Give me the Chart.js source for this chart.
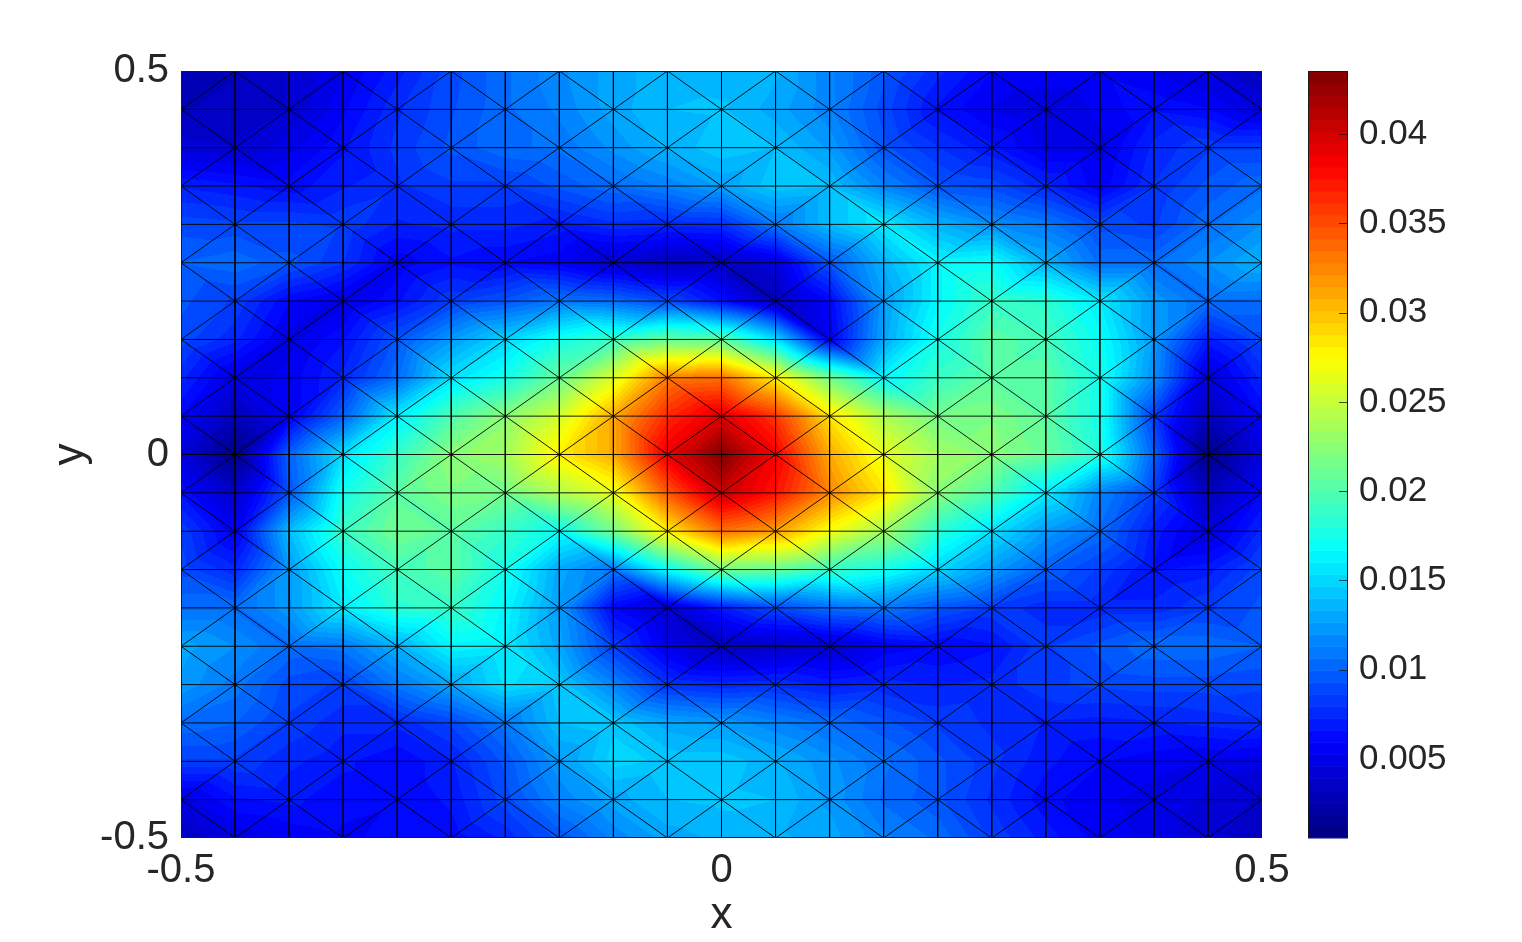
<!DOCTYPE html>
<html>
<head>
<meta charset="utf-8">
<title>Mesh field</title>
<script src="https://cdn.jsdelivr.net/npm/chart.js@4/dist/chart.umd.min.js"></script>
<style>
    html, body { margin: 0; padding: 0; background: #fff; }
    canvas { display: block; }
</style>
</head>
<body>
<canvas id="meshChart" width="1522" height="942"></canvas>
<script>
const xNodes = [-0.5, -0.45, -0.4, -0.35, -0.3, -0.25, -0.2, -0.15, -0.1, -0.05, 0, 0.05, 0.1, 0.15, 0.2, 0.25, 0.3, 0.35, 0.4, 0.45, 0.5];
const yNodes = [0.5, 0.45, 0.4, 0.35, 0.3, 0.25, 0.2, 0.15, 0.1, 0.05, 0, -0.05, -0.1, -0.15, -0.2, -0.25, -0.3, -0.35, -0.4, -0.45, -0.5];

// node values, one list per y level, left to right
const rowP50 = [.0028, .0032, .0040, .0052, .0070, .0090, .0105, .0118, .0130, .0138, .0137, .0135, .0115, .0095, .0075, .0060, .0060, .0058, .0052, .0045, .0030];
const rowP45 = [.0032, .0035, .0040, .0058, .0078, .0092, .0105, .0115, .0130, .0140, .0141, .0130, .0115, .0090, .0065, .0052, .0045, .0055, .0065, .0060, .0045];
const rowP40 = [.0042, .0040, .0050, .0065, .0082, .0095, .0105, .0108, .0122, .0135, .0145, .0140, .0125, .0095, .0080, .0068, .0050, .0050, .0075, .0085, .0085];
const rowP35 = [.0072, .0068, .0062, .0072, .0078, .0085, .0085, .0095, .0105, .0115, .0128, .0145, .0140, .0115, .0095, .0090, .0075, .0055, .0080, .0095, .0105];
const rowP30 = [.0090, .0088, .0088, .0085, .0072, .0075, .0075, .0070, .0078, .0075, .0078, .0110, .0140, .0160, .0135, .0120, .0110, .0090, .0085, .0105, .0120];
const rowP25 = [.0100, .0105, .0095, .0080, .0055, .0065, .0060, .0055, .0040, .0030, .0032, .0045, .0095, .0135, .0165, .0170, .0135, .0105, .0105, .0120, .0135];
const rowP20 = [.0095, .0085, .0060, .0050, .0065, .0085, .0095, .0110, .0105, .0090, .0065, .0030, .0060, .0125, .0165, .0190, .0185, .0160, .0125, .0105, .0105];
const rowP15 = [.0090, .0075, .0050, .0065, .0095, .0125, .0150, .0175, .0190, .0210, .0205, .0155, .0055, .0130, .0175, .0205, .0195, .0170, .0125, .0070, .0090];
const rowP10 = [.0075, .0048, .0055, .0075, .0105, .0155, .0175, .0210, .0260, .0330, .0335, .0280, .0215, .0165, .0190, .0205, .0205, .0175, .0120, .0045, .0075];
const rowP05 = [.0060, .0030, .0055, .0100, .0160, .0200, .0225, .0255, .0310, .0365, .0395, .0360, .0285, .0240, .0215, .0220, .0205, .0175, .0085, .0030, .0060];
const rowZ00 = [.0045, .0010, .0100, .0155, .0190, .0225, .0235, .0280, .0310, .0390, .0435, .0385, .0310, .0265, .0235, .0225, .0210, .0180, .0100, .0010, .0045];
const rowM05 = [.0065, .0035, .0095, .0175, .0205, .0220, .0215, .0240, .0265, .0345, .0405, .0375, .0325, .0285, .0225, .0200, .0160, .0115, .0085, .0030, .0060];
const rowM10 = [.0085, .0055, .0140, .0190, .0215, .0205, .0190, .0170, .0215, .0280, .0335, .0315, .0270, .0235, .0185, .0155, .0125, .0105, .0070, .0045, .0075];
const rowM15 = [.0090, .0075, .0125, .0170, .0195, .0205, .0175, .0130, .0110, .0170, .0215, .0210, .0190, .0175, .0150, .0125, .0100, .0085, .0065, .0070, .0090];
const rowM20 = [.0105, .0105, .0125, .0160, .0185, .0190, .0165, .0125, .0060, .0040, .0070, .0090, .0105, .0110, .0095, .0085, .0075, .0075, .0075, .0085, .0095];
const rowM25 = [.0130, .0120, .0105, .0110, .0135, .0165, .0160, .0130, .0085, .0050, .0030, .0035, .0040, .0055, .0060, .0065, .0085, .0095, .0105, .0105, .0100];
const rowM30 = [.0125, .0110, .0090, .0085, .0110, .0130, .0155, .0145, .0115, .0080, .0075, .0078, .0070, .0075, .0072, .0075, .0085, .0088, .0090, .0090, .0088];
const rowM35 = [.0105, .0100, .0085, .0075, .0075, .0088, .0110, .0140, .0145, .0130, .0125, .0115, .0105, .0095, .0085, .0078, .0072, .0070, .0072, .0075, .0078];
const rowM40 = [.0085, .0085, .0075, .0068, .0060, .0072, .0095, .0125, .0150, .0145, .0145, .0135, .0122, .0108, .0095, .0082, .0068, .0060, .0055, .0052, .0048];
const rowM45 = [.0048, .0065, .0068, .0062, .0060, .0068, .0090, .0115, .0130, .0140, .0142, .0140, .0125, .0105, .0095, .0078, .0062, .0054, .0050, .0045, .0038];
const rowM50 = [.0032, .0048, .0054, .0058, .0062, .0062, .0075, .0095, .0115, .0130, .0135, .0135, .0130, .0115, .0105, .0085, .0070, .0056, .0050, .0042, .0030];

const zRows = [rowP50, rowP45, rowP40, rowP35, rowP30, rowP25, rowP20, rowP15, rowP10, rowP05, rowZ00, rowM05, rowM10, rowM15, rowM20, rowM25, rowM30, rowM35, rowM40, rowM45, rowM50];

const xTicks = [-0.5, 0, 0.5];
const yTicks = [-0.5, 0, 0.5];
const colorTicks = [0.005, 0.01, 0.015, 0.02, 0.025, 0.03, 0.035, 0.04];
const colorMin = 0.00058;
const colorMax = 0.04353;

const TEXT_COLOR = "#262626";
const FONT = "'Liberation Sans', Arial, sans-serif";
const BANDS = 64;

function clamp01(v) {
    return Math.max(0, Math.min(1, v));
}

// jet colormap, quantised to 64 bands like the original
function jet(i) {
    const t = (i + 0.5) / BANDS;
    return [
        Math.round(255 * clamp01(Math.min(4 * t - 1.5, -4 * t + 4.5))),
        Math.round(255 * clamp01(Math.min(4 * t - 0.5, -4 * t + 3.5))),
        Math.round(255 * clamp01(Math.min(4 * t + 0.5, -4 * t + 2.5)))
    ];
}

const palette = [];
for (let i = 0; i < BANDS; i++) {
    palette.push(jet(i));
}

function bandOf(v) {
    const t = (v - colorMin) / (colorMax - colorMin);
    return Math.max(0, Math.min(BANDS - 1, Math.floor(t * BANDS)));
}

// each cell is split along the diagonal that joins its two "odd" corners
function cellTriangles(i, j) {
    const a = [i, j], b = [i + 1, j], c = [i, j + 1], d = [i + 1, j + 1];
    if ((i + j) % 2 === 1) {
        return [[a, b, d], [a, d, c]];
    }
    return [[a, b, c], [b, d, c]];
}

function meshLines() {
    const pts = [];
    const gap = { x: NaN, y: NaN };
    const n = xNodes.length - 1;
    const m = yNodes.length - 1;

    xNodes.forEach(x => {
        pts.push({ x: x, y: yNodes[0] }, { x: x, y: yNodes[m] }, gap);
    });
    yNodes.forEach(y => {
        pts.push({ x: xNodes[0], y: y }, { x: xNodes[n], y: y }, gap);
    });
    for (let j = 0; j < m; j++) {
        for (let i = 0; i < n; i++) {
            if ((i + j) % 2 === 1) {
                pts.push({ x: xNodes[i], y: yNodes[j] }, { x: xNodes[i + 1], y: yNodes[j + 1] }, gap);
            } else {
                pts.push({ x: xNodes[i + 1], y: yNodes[j] }, { x: xNodes[i], y: yNodes[j + 1] }, gap);
            }
        }
    }
    return pts;
}

const fieldPlugin = {
    id: "field",
    beforeDatasetsDraw(chart) {
        const area = chart.chartArea;
        const sx = chart.scales.x;
        const sy = chart.scales.y;
        const left = Math.round(area.left);
        const top = Math.round(area.top);
        const w = Math.round(area.right) - left;
        const h = Math.round(area.bottom) - top;
        const img = chart.ctx.createImageData(w, h);

        for (let j = 0; j < yNodes.length - 1; j++) {
            for (let i = 0; i < xNodes.length - 1; i++) {
                cellTriangles(i, j).forEach(tri => {
                    const p = tri.map(n => ({
                        x: sx.getPixelForValue(xNodes[n[0]]),
                        y: sy.getPixelForValue(yNodes[n[1]]),
                        z: zRows[n[1]][n[0]]
                    }));
                    const den = (p[1].y - p[2].y) * (p[0].x - p[2].x) + (p[2].x - p[1].x) * (p[0].y - p[2].y);
                    const x0 = Math.max(left, Math.floor(Math.min(p[0].x, p[1].x, p[2].x)));
                    const x1 = Math.min(left + w - 1, Math.ceil(Math.max(p[0].x, p[1].x, p[2].x)));
                    const y0 = Math.max(top, Math.floor(Math.min(p[0].y, p[1].y, p[2].y)));
                    const y1 = Math.min(top + h - 1, Math.ceil(Math.max(p[0].y, p[1].y, p[2].y)));

                    for (let py = y0; py <= y1; py++) {
                        for (let px = x0; px <= x1; px++) {
                            const cx = px + 0.5, cy = py + 0.5;
                            const l0 = ((p[1].y - p[2].y) * (cx - p[2].x) + (p[2].x - p[1].x) * (cy - p[2].y)) / den;
                            const l1 = ((p[2].y - p[0].y) * (cx - p[2].x) + (p[0].x - p[2].x) * (cy - p[2].y)) / den;
                            const l2 = 1 - l0 - l1;
                            if (l0 < -0.02 || l1 < -0.02 || l2 < -0.02) continue;
                            const c = palette[bandOf(l0 * p[0].z + l1 * p[1].z + l2 * p[2].z)];
                            const o = ((py - top) * w + (px - left)) * 4;
                            img.data[o] = c[0];
                            img.data[o + 1] = c[1];
                            img.data[o + 2] = c[2];
                            img.data[o + 3] = 255;
                        }
                    }
                });
            }
        }
        chart.ctx.putImageData(img, left, top);
    },
    afterDatasetsDraw(chart) {
        const ctx = chart.ctx;
        const area = chart.chartArea;
        const cb = chart.scales.cb;
        const barLeft = 1308;
        const barRight = 1348;

        ctx.save();
        ctx.strokeStyle = "#1a1a1a";
        ctx.lineWidth = 1;
        ctx.strokeRect(area.left + 0.5, area.top + 0.5, area.right - area.left - 1, area.bottom - area.top - 1);

        // colour bar, same scale as the tick labels beside it
        for (let i = 0; i < BANDS; i++) {
            const lo = colorMin + (colorMax - colorMin) * i / BANDS;
            const hi = colorMin + (colorMax - colorMin) * (i + 1) / BANDS;
            const yLo = cb.getPixelForValue(lo);
            const yHi = cb.getPixelForValue(hi);
            const c = palette[i];
            ctx.fillStyle = `rgb(${c[0]},${c[1]},${c[2]})`;
            ctx.fillRect(barLeft, yHi, barRight - barLeft, yLo - yHi + 0.5);
        }
        ctx.strokeRect(barLeft + 0.5, area.top + 0.5, barRight - barLeft - 1, area.bottom - area.top - 1);

        ctx.strokeStyle = "rgba(20,20,20,0.75)";
        colorTicks.forEach(v => {
            const y = Math.round(cb.getPixelForValue(v)) + 0.5;
            ctx.beginPath();
            ctx.moveTo(barRight - 9, y);
            ctx.lineTo(barRight, y);
            ctx.stroke();
        });
        ctx.restore();
    }
};

function fixedTicks(values) {
    return scale => {
        scale.ticks = values.map(v => ({ value: v }));
    };
}

// box sizes are fixed so the plot lands where the reference has it
function fixedBox(prop, size) {
    return scale => {
        scale[prop] = size;
        scale.paddingTop = 0;
        scale.paddingBottom = 0;
        scale.paddingLeft = 0;
        scale.paddingRight = 0;
    };
}

const ctx = document.getElementById("meshChart").getContext("2d");

new Chart(ctx, {
    type: "scatter",
    data: {
        datasets: [{
            data: meshLines(),
            showLine: true,
            spanGaps: false,
            borderColor: "rgba(0,0,0,0.9)",
            borderWidth: 1,
            pointRadius: 0,
            pointHoverRadius: 0
        }]
    },
    plugins: [fieldPlugin],
    options: {
        responsive: false,
        animation: false,
        events: [],
        layout: { padding: { top: 71, left: 0, right: 0, bottom: 0 } },
        plugins: {
            legend: { display: false },
            tooltip: { enabled: false }
        },
        scales: {
            x: {
                type: "linear",
                min: -0.5,
                max: 0.5,
                afterBuildTicks: fixedTicks(xTicks),
                afterFit: fixedBox("height", 104),
                grid: { display: false },
                border: { display: false },
                ticks: {
                    color: TEXT_COLOR,
                    font: { family: FONT, size: 40 },
                    padding: 1,
                    maxRotation: 0,
                    autoSkip: false,
                    callback: v => String(v)
                },
                title: {
                    display: true,
                    text: "x",
                    color: TEXT_COLOR,
                    font: { family: FONT, size: 44 },
                    padding: { top: 0, bottom: 0 }
                }
            },
            y: {
                type: "linear",
                min: -0.5,
                max: 0.5,
                afterBuildTicks: fixedTicks(yTicks),
                afterFit: fixedBox("width", 181),
                grid: { display: false },
                border: { display: false },
                ticks: {
                    color: TEXT_COLOR,
                    font: { family: FONT, size: 40 },
                    padding: 4,
                    autoSkip: false,
                    callback: v => String(v)
                },
                title: {
                    display: true,
                    text: "y",
                    color: TEXT_COLOR,
                    font: { family: FONT, size: 44 },
                    padding: { top: 44, bottom: 0 }
                }
            },
            cb: {
                type: "linear",
                axis: "y",
                position: "right",
                min: colorMin,
                max: colorMax,
                afterBuildTicks: fixedTicks(colorTicks),
                afterFit: fixedBox("width", 260),
                grid: { display: false, drawTicks: false },
                border: { display: false },
                ticks: {
                    color: TEXT_COLOR,
                    font: { family: FONT, size: 35 },
                    padding: 97,
                    autoSkip: false,
                    callback: v => String(v)
                }
            }
        }
    }
});
</script>
</body>
</html>
